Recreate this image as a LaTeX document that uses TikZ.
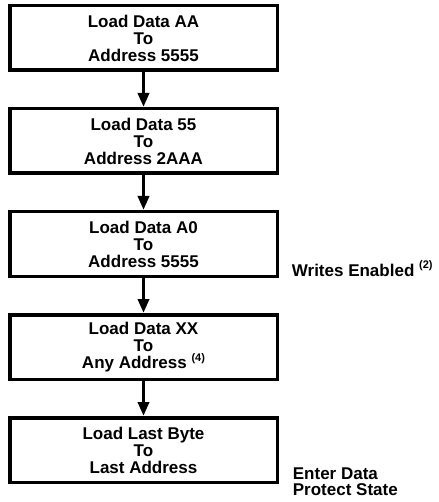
\documentclass[tikz,border=0pt]{standalone}
\usepackage{fontspec}
\setmainfont{Liberation Sans}
\usetikzlibrary{positioning,arrows.meta}
\newcommand{\notemark}[1]{\raisebox{0.42em}{\fontsize{11}{11}\selectfont(#1)}}

\begin{document}
\begin{tikzpicture}[x=1pt, y=1pt, node distance=35pt,
    stepbox/.style={draw, line width=3.5pt, minimum width=267.5pt, minimum height=64.5pt,
        inner sep=0pt, align=center, font=\fontsize{17}{17}\selectfont\bfseries},
    flow/.style={line width=3.5pt, -{Triangle[width=11pt, length=14pt]}},
    sidenote/.style={inner sep=0pt, align=left, font=\fontsize{17}{16}\selectfont\bfseries}]
    \useasboundingbox (0,0) rectangle (438,-502);
    \node[stepbox] (load1) at (143.5,-38) {Load Data AA\\To\\Address 5555};
    \node[stepbox, below=of load1] (load2) {Load Data 55\\To\\Address 2AAA};
    \node[stepbox, below=of load2] (load3) {Load Data A0\\To\\Address 5555};
    \node[stepbox, below=of load3] (load4) {Load Data XX\\To\\Any Address \notemark{4}};
    \node[stepbox, below=of load4] (load5) {Load Last Byte\\To\\Last Address};
    \draw[flow] (load1) -- (load2);
    \draw[flow] (load2) -- (load3);
    \draw[flow] (load3) -- (load4);
    \draw[flow] (load4) -- (load5);
    \node[sidenote, anchor=base west] (enabled) at ([xshift=12.7pt, yshift=2pt]load3.south east) {Writes Enabled \notemark{2}};
    \node[sidenote, anchor=south west] (protect) at ([xshift=13.7pt, yshift=-12pt]load5.south east) {Enter Data\\Protect State};
\end{tikzpicture}
\end{document}
